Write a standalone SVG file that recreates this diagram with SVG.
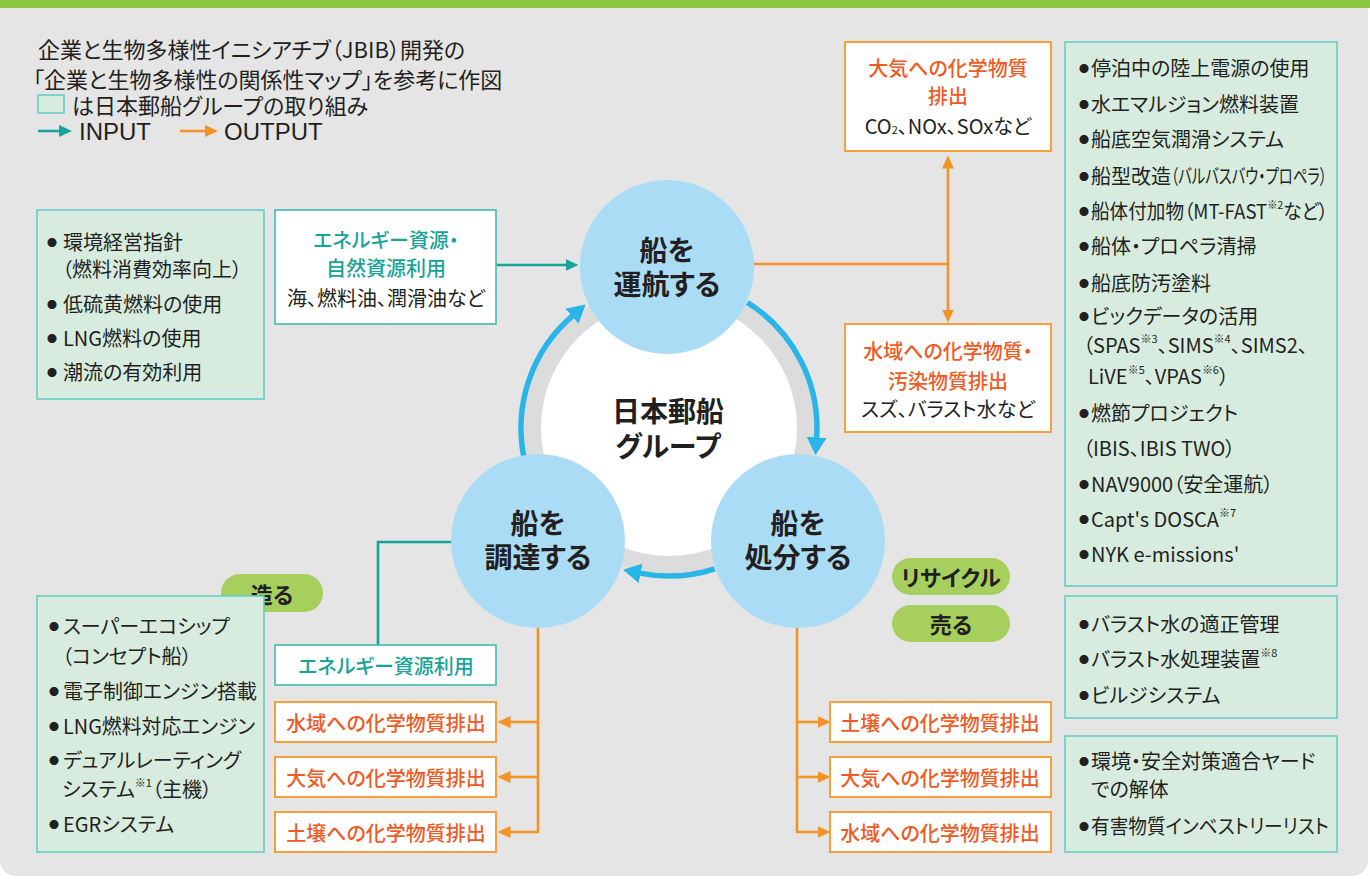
<svg xmlns="http://www.w3.org/2000/svg" width="1370" height="879" viewBox="0 0 1370 879">
<style>
text{font-family:"Noto Sans CJK JP","Noto Sans",sans-serif;font-feature-settings:"palt";fill:#231f20;dominant-baseline:central}
.s20{font-size:20px}
.leg{font-size:22px}
.lat{font-family:"Liberation Sans",Arial,sans-serif;font-size:24px;font-feature-settings:normal}
.mid{text-anchor:middle}
.teal{fill:#17a398;font-weight:500}
.org{fill:#ef5a24;font-weight:500}
.bul{font-size:10px;text-anchor:middle}
.sup{font-size:11px}
.circ{font-size:28px;font-weight:700;text-anchor:middle}
.pill{font-size:22px;font-weight:700;text-anchor:middle}
.mint{fill:#d7ecdf;stroke:#66cdc2;stroke-width:1.6}
.wbox{fill:#fff;stroke:#3fbcb0;stroke-width:1.6}
.obox{fill:#fff;stroke:#f6a03a;stroke-width:2}
.node{fill:#aadcf5}
.pl{fill:#a7cf5e}
.ol{fill:none;stroke:#f39325;stroke-width:2.6}
.tl{fill:none;stroke:#17a398;stroke-width:2.6}
.bl{fill:none;stroke:#2ab5e8;stroke-width:5.5}
</style>
<defs>
<marker id="aT" markerUnits="userSpaceOnUse" markerWidth="13" markerHeight="12" refX="0.5" refY="6" orient="auto" viewBox="0 0 13 12"><path d="M0,0 L13,6 L0,12 z" fill="#17a398"/></marker>
<marker id="aO" markerUnits="userSpaceOnUse" markerWidth="13" markerHeight="12" refX="0.5" refY="6" orient="auto" viewBox="0 0 13 12"><path d="M0,0 L13,6 L0,12 z" fill="#f39325"/></marker>
<marker id="aB" markerUnits="userSpaceOnUse" markerWidth="18" markerHeight="20" refX="1" refY="10" orient="auto" viewBox="0 0 18 20"><path d="M0,0 L18,10 L0,20 z" fill="#2ab5e8"/></marker>
</defs>
<!-- background -->
<path d="M0,0 H1368 V858 Q1368,876 1350,876 H18 Q0,876 0,858 Z" fill="#e5e5e5"/>
<rect x="0" y="0" width="1370" height="8" fill="#8cc63f"/>

<!-- legend -->
<g id="legend">
<text class="leg" x="38" y="48">企業と生物多様性イニシアチブ（JBIB）開発の</text>
<text class="leg" x="33" y="78">「企業と生物多様性の関係性マップ」を参考に作図</text>
<rect x="38" y="95" width="26" height="18" class="mint"/>
<text class="leg" x="72" y="104">は日本郵船グループの取り組み</text>
<line x1="38" y1="131" x2="60" y2="131" class="tl"/>
<path d="M59,125 L72,131 L59,137 z" fill="#17a398"/>
<text class="lat" x="79" y="131">INPUT</text>
<line x1="180" y1="131" x2="206" y2="131" class="ol"/>
<path d="M205,125 L218,131 L205,137 z" fill="#f39325"/>
<text class="lat" x="224" y="131">OUTPUT</text>
</g>

<!-- center group -->
<g id="node-nyk-group">
<circle cx="669" cy="428" r="146" fill="#dcdcdc"/>
<circle cx="669" cy="428" r="128" fill="#fff"/>
<text class="circ" x="668" y="410">日本郵船</text>
<text class="circ" x="668" y="445">グループ</text>
</g>

<!-- connectors -->
<g id="connectors">
<path class="bl" d="M747.4,302.5 A148,148 0 0 1 816.6,438.3" marker-end="url(#aB)"/>
<path class="bl" d="M714.7,568.8 A148,148 0 0 1 639.7,573.1" marker-end="url(#aB)"/>
<path class="bl" d="M523.7,456.2 A148,148 0 0 1 572.7,315.6" marker-end="url(#aB)"/>
<path class="tl" d="M497,265 H566" marker-end="url(#aT)"/>
<path class="ol" d="M753,264 H948"/>
<path class="ol" d="M948,264 V168" marker-end="url(#aO)"/>
<path class="ol" d="M948,264 V310" marker-end="url(#aO)"/>
<path class="tl" d="M452,542 H378 V645"/>
<path class="ol" d="M538,626 V832 H510" marker-end="url(#aO)"/>
<path class="ol" d="M538,722 H510" marker-end="url(#aO)"/>
<path class="ol" d="M538,777 H510" marker-end="url(#aO)"/>
<path class="ol" d="M797,626 V832 H818" marker-end="url(#aO)"/>
<path class="ol" d="M797,722 H818" marker-end="url(#aO)"/>
<path class="ol" d="M797,777 H818" marker-end="url(#aO)"/>
</g>

<!-- circle nodes -->
<g id="node-operate">
<circle cx="667" cy="267" r="87" class="node"/>
<text class="circ" x="667" y="249">船を</text>
<text class="circ" x="667" y="283">運航する</text>
</g>
<g id="node-procure">
<circle cx="538" cy="541" r="87" class="node"/>
<text class="circ" x="538" y="522">船を</text>
<text class="circ" x="538" y="556">調達する</text>
</g>
<g id="node-dispose">
<circle cx="798" cy="541" r="87" class="node"/>
<text class="circ" x="798" y="522">船を</text>
<text class="circ" x="798" y="556">処分する</text>
</g>

<!-- left top measures -->
<g id="box-policy">
<rect x="37" y="210" width="227" height="189" class="mint"/>
<text class="bul" x="52" y="242">●</text><text class="s20" x="63" y="241">環境経営指針</text>
<text class="s20" x="62" y="268">（燃料消費効率向上）</text>
<text class="bul" x="52" y="304">●</text><text class="s20" x="63" y="303">低硫黄燃料の使用</text>
<text class="bul" x="52" y="338">●</text><text class="s20" x="63" y="337">LNG燃料の使用</text>
<text class="bul" x="52" y="372">●</text><text class="s20" x="63" y="371">潮流の有効利用</text>
</g>

<g id="box-energy-natural">
<rect x="275" y="210" width="221" height="114" class="wbox"/>
<text class="s20 mid teal" x="386" y="239">エネルギー資源・</text>
<text class="s20 mid teal" x="386" y="267">自然資源利用</text>
<text class="s20 mid" x="386" y="297">海、燃料油、潤滑油など</text>
</g>

<g id="box-air-top">
<rect x="845" y="42" width="206" height="109" class="obox"/>
<text class="s20 mid org" x="948" y="67">大気への化学物質</text>
<text class="s20 mid org" x="948" y="95">排出</text>
<text class="s20 mid" x="948" y="125">CO<tspan class="sup" dy="4">2</tspan><tspan dy="-4">、NOx、SOxなど</tspan></text>
</g>

<g id="box-water-top">
<rect x="845" y="324" width="206" height="108" class="obox"/>
<text class="s20 mid org" x="948" y="350">水域への化学物質・</text>
<text class="s20 mid org" x="948" y="380">汚染物質排出</text>
<text class="s20 mid" x="948" y="408">スズ、バラスト水など</text>
</g>

<g id="box-operate-measures">
<rect x="1065" y="42" width="272" height="544" class="mint"/>
<text class="bul" x="1084" y="68">●</text><text class="s20" x="1091" y="67">停泊中の陸上電源の使用</text>
<text class="bul" x="1084" y="104">●</text><text class="s20" x="1091" y="103">水エマルジョン燃料装置</text>
<text class="bul" x="1084" y="139">●</text><text class="s20" x="1091" y="138">船底空気潤滑システム</text>
<text class="bul" x="1084" y="176">●</text><text class="s20" x="1091" y="175">船型改造</text>
<text class="s20" transform="translate(1171,175) scale(0.72,1)" x="0" y="0">（バルバスバウ・プロペラ）</text>
<text class="bul" x="1084" y="211">●</text><text class="s20" x="1091" y="210" textLength="237" lengthAdjust="spacingAndGlyphs">船体付加物（MT-FAST<tspan class="sup" dy="-6">※2</tspan><tspan dy="6">など）</tspan></text>
<text class="bul" x="1084" y="246">●</text><text class="s20" x="1091" y="245">船体・プロペラ清掃</text>
<text class="bul" x="1084" y="283">●</text><text class="s20" x="1091" y="282">船底防汚塗料</text>
<text class="bul" x="1084" y="316">●</text><text class="s20" x="1091" y="315">ビックデータの活用</text>
<text class="s20" x="1083" y="344">（SPAS<tspan class="sup" dy="-6">※3</tspan><tspan dy="6">、SIMS</tspan><tspan class="sup" dy="-6">※4</tspan><tspan dy="6">、SIMS2、</tspan></text>
<text class="s20" x="1088" y="375">LiVE<tspan class="sup" dy="-6">※5</tspan><tspan dy="6">、VPAS</tspan><tspan class="sup" dy="-6">※6</tspan><tspan dy="6">）</tspan></text>
<text class="bul" x="1084" y="413">●</text><text class="s20" x="1091" y="412">燃節プロジェクト</text>
<text class="s20" x="1083" y="447">（IBIS、IBIS TWO）</text>
<text class="bul" x="1084" y="484">●</text><text class="s20" x="1091" y="483">NAV9000（安全運航）</text>
<text class="bul" x="1084" y="519">●</text><text class="s20" x="1091" y="518">Capt's DOSCA<tspan class="sup" dy="-6">※7</tspan></text>
<text class="bul" x="1084" y="554">●</text><text class="s20" x="1091" y="553">NYK e-missions'</text>
</g>

<g id="pill-build">
<rect x="221" y="574" width="102" height="38" rx="19" class="pl"/>
<text class="pill" x="272" y="593">造る</text>
</g>
<g id="pill-recycle">
<rect x="892" y="558" width="118" height="37" rx="18.5" class="pl"/>
<text class="pill" x="951" y="576">リサイクル</text>
</g>
<g id="pill-sell">
<rect x="892" y="605" width="118" height="37" rx="18.5" class="pl"/>
<text class="pill" x="951" y="623">売る</text>
</g>

<g id="box-build-measures">
<rect x="37" y="596" width="227" height="256" class="mint"/>
<text class="bul" x="54" y="626">●</text><text class="s20" x="63" y="625">スーパーエコシップ</text>
<text class="s20" x="62" y="655">（コンセプト船）</text>
<text class="bul" x="54" y="691">●</text><text class="s20" x="63" y="690" textLength="194" lengthAdjust="spacingAndGlyphs">電子制御エンジン搭載</text>
<text class="bul" x="54" y="726">●</text><text class="s20" x="63" y="725" textLength="192" lengthAdjust="spacingAndGlyphs">LNG燃料対応エンジン</text>
<text class="bul" x="54" y="760">●</text><text class="s20" x="63" y="759">デュアルレーティング</text>
<text class="s20" x="62" y="788">システム<tspan class="sup" dy="-6">※1</tspan><tspan dy="6">（主機）</tspan></text>
<text class="bul" x="54" y="824">●</text><text class="s20" x="63" y="823">EGRシステム</text>
</g>

<g id="box-energy-procure">
<rect x="275" y="645" width="221" height="40" class="wbox"/>
<text class="s20 mid teal" x="386" y="665">エネルギー資源利用</text>
</g>
<g id="box-water-procure">
<rect x="275" y="702" width="221" height="40" class="obox"/>
<text class="s20 mid org" x="386" y="722">水域への化学物質排出</text>
</g>
<g id="box-air-procure">
<rect x="275" y="757" width="221" height="40" class="obox"/>
<text class="s20 mid org" x="386" y="777">大気への化学物質排出</text>
</g>
<g id="box-soil-procure">
<rect x="275" y="812" width="221" height="40" class="obox"/>
<text class="s20 mid org" x="386" y="832">土壌への化学物質排出</text>
</g>

<g id="box-soil-dispose">
<rect x="830" y="702" width="221" height="40" class="obox"/>
<text class="s20 mid org" x="940" y="722">土壌への化学物質排出</text>
</g>
<g id="box-air-dispose">
<rect x="830" y="757" width="221" height="40" class="obox"/>
<text class="s20 mid org" x="940" y="777">大気への化学物質排出</text>
</g>
<g id="box-water-dispose">
<rect x="830" y="812" width="221" height="40" class="obox"/>
<text class="s20 mid org" x="940" y="832">水域への化学物質排出</text>
</g>

<g id="box-ballast">
<rect x="1065" y="596" width="272" height="122" class="mint"/>
<text class="bul" x="1084" y="624">●</text><text class="s20" x="1091" y="623">バラスト水の適正管理</text>
<text class="bul" x="1084" y="659">●</text><text class="s20" x="1091" y="658">バラスト水処理装置<tspan class="sup" dy="-6">※8</tspan></text>
<text class="bul" x="1084" y="695">●</text><text class="s20" x="1091" y="694">ビルジシステム</text>
</g>

<g id="box-scrap">
<rect x="1065" y="736" width="272" height="116" class="mint"/>
<text class="bul" x="1084" y="761">●</text><text class="s20" x="1091" y="760">環境・安全対策適合ヤード</text>
<text class="s20" x="1091" y="788">での解体</text>
<text class="bul" x="1084" y="826">●</text><text class="s20" x="1091" y="825" textLength="238" lengthAdjust="spacingAndGlyphs">有害物質インベストリーリスト</text>
</g>
</svg>
